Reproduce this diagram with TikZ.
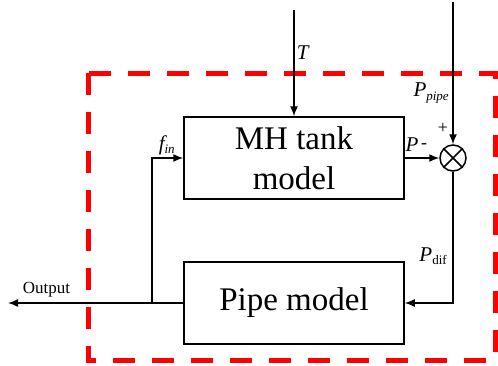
\documentclass[tikz,border=0pt]{standalone}
\usepackage{fontspec}
\setmainfont{Liberation Serif}
\usetikzlibrary{arrows.meta,positioning,calc}

\begin{document}
\begin{tikzpicture}[
    x=1pt, y=-1pt,
    block/.style={
      rectangle, draw=black, line width=1.5pt,
      minimum width=220pt, minimum height=82pt,
      font=\fontsize{33}{40}\selectfont, align=center, inner sep=0pt
    },
    sumnode/.style={
      circle, draw=black, line width=1.5pt,
      minimum size=26pt, inner sep=0pt
    },
    signal/.style={
      -{Latex[length=10pt,width=8pt]}, line width=1.5pt
    },
    wire/.style={
      line width=1.5pt
    },
    frame/.style={
      draw=red, line width=5pt, dash pattern=on 22pt off 17pt
    },
    sig_label/.style={
      font=\fontsize{21}{21}\selectfont\itshape, inner sep=1pt
    },
    sub_label/.style={
      font=\fontsize{12}{12}\selectfont
    }
  ]
  \useasboundingbox (0,0) rectangle (498,365);

  % --- Subsystem frame ---
  \draw[frame] (88,73) rectangle (495,360);

  % --- Blocks ---
  \node[block] (tank) at (294,158) {MH tank\\model};
  \node[block] (pipe) at (294,303) {Pipe model};
  \node[sumnode] (sum) at (453,158) {};
  \draw[wire] (sum.north west) -- (sum.south east);
  \draw[wire] (sum.north east) -- (sum.south west);

  % --- Free ends ---
  \coordinate (Tin) at (294,10);
  \coordinate (Pin) at (453,2);
  \coordinate (out) at (8,303);
  \coordinate (split) at (152,303);

  % --- Signals ---
  \draw[signal] (Tin) -- (tank.north)
    node[sig_label, pos=0.4, right=1pt] (Tlab) {T};
  \draw[signal] (Pin) -- (sum.north)
    node[sig_label, pos=0.64, left=2pt] (Ppipe)
      {P\textsubscript{\fontsize{13}{13}\selectfont pipe}};
  \draw[signal] (tank.east) -- (sum.west);
  \draw[signal] (sum.south) |- (pipe.east)
    node[sig_label, pos=0.32, left=4pt] (Pdif)
      {P\textsubscript{\upshape\fontsize{13}{13}\selectfont dif}};
  \draw[signal] (pipe.west) -- (out)
    node[pos=0.78, above=2pt, font=\fontsize{17}{17}\selectfont] (outlab) {Output};
  \draw[signal] (split) |- (tank.west);

  % --- Signs and short labels ---
  \node[sig_label] (Pout) at (412,145) {P};
  \node[font=\fontsize{18}{18}\selectfont] (minus) at (424,146) {-};
  \node[font=\fontsize{18}{18}\selectfont] (plus) at (443,128) {+};
  \node[sig_label] (fin) at (167,145)
    {f\textsubscript{\fontsize{13}{13}\selectfont in}};
\end{tikzpicture}
\end{document}
